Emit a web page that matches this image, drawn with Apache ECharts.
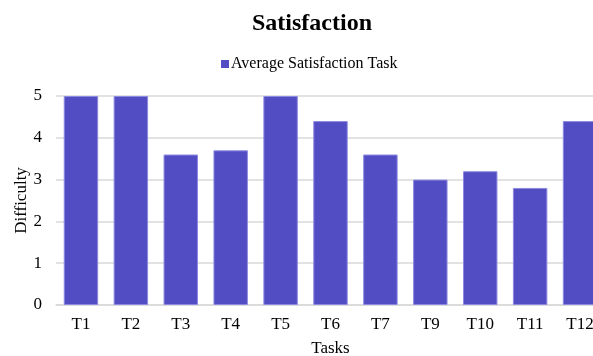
<!DOCTYPE html>
<html>
<head>
<meta charset="utf-8">
<script src="https://cdn.jsdelivr.net/npm/echarts@6/dist/echarts.min.js"></script>
<style>
  html, body { margin: 0; padding: 0; background: #fff; }
  #chart { width: 593px; height: 356px; }
</style>
</head>
<body>
<div id="chart"></div>
<script>
// Task labels along the x axis (no T8 in this set)
const tasks = ['T1', 'T2', 'T3', 'T4', 'T5', 'T6', 'T7', 'T9', 'T10', 'T11', 'T12'];
// Average satisfaction score per task
const avgSatisfaction = [5, 5, 3.6, 3.7, 5, 4.4, 3.6, 3.0, 3.2, 2.8, 4.4];
// Y axis range
const yMin = 0, yMax = 5, yStep = 1;

const serif = '"Liberation Serif", "DejaVu Serif", serif';
const chart = echarts.init(document.getElementById('chart'));

chart.setOption({
  animation: false,
  backgroundColor: '#fff',
  title: {
    text: 'Satisfaction',
    left: 307,
    top: 7,
    textAlign: 'center',
    textStyle: { fontFamily: serif, fontSize: 24, fontWeight: 'bold', color: '#000' }
  },
  legend: {
    data: ['Average Satisfaction Task'],
    left: 216,
    top: 51,
    icon: 'rect',
    itemWidth: 8,
    itemHeight: 8,
    itemGap: 3,
    itemStyle: { borderWidth: 0 },
    textStyle: { fontFamily: serif, fontSize: 16, color: '#000', padding: [0, 0, 0, -3] }
  },
  // the last category band runs slightly past the right edge of the canvas
  grid: { left: 56, right: -12, top: 96, bottom: 51, containLabel: false, outerBoundsMode: 'none' },
  xAxis: {
    type: 'category',
    data: tasks,
    name: 'Tasks',
    nameLocation: 'middle',
    nameGap: 35,
    nameTextStyle: { fontFamily: serif, fontSize: 17, color: '#000' },
    axisLine: { lineStyle: { color: '#d9d9d9', width: 1.5 } },
    axisTick: { show: false },
    axisLabel: { fontFamily: serif, fontSize: 17, color: '#000', margin: 11 }
  },
  yAxis: {
    type: 'value',
    min: yMin,
    max: yMax,
    interval: yStep,
    name: 'Difficulty',
    nameLocation: 'middle',
    nameGap: 26,
    nameMoveOverlap: false,
    nameTextStyle: { fontFamily: serif, fontSize: 17, color: '#000' },
    axisLine: { show: false },
    axisTick: { show: false },
    axisLabel: { fontFamily: serif, fontSize: 17, color: '#000', margin: 14 },
    splitLine: { lineStyle: { color: '#d9d9d9', width: 1.5 } }
  },
  series: [{
    name: 'Average Satisfaction Task',
    type: 'bar',
    data: avgSatisfaction,
    barCategoryGap: '31%',
    itemStyle: { color: '#524dc3', borderColor: '#8d89e0', borderWidth: 1 }
  }]
});
</script>
</body>
</html>
